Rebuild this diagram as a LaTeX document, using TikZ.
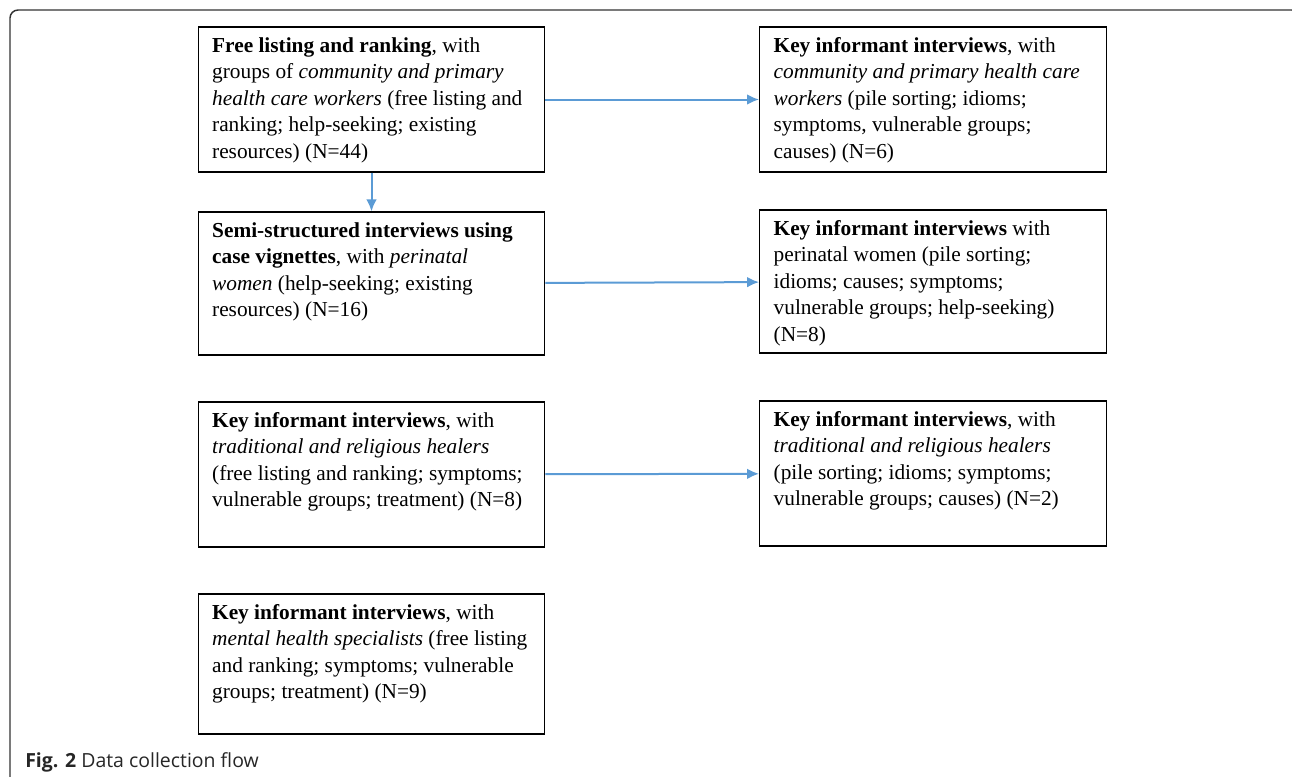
\documentclass[tikz,border=0pt]{standalone}
\usepackage{fontspec}
\setmainfont{Liberation Serif}
\newfontfamily\capfont{Open Sans}
\usetikzlibrary{arrows.meta,positioning}
\definecolor{flowblue}{HTML}{5B9BD5}
\definecolor{framegray}{HTML}{333333}
\newcommand{\stagetext}[2][108.75pt]{%
  \begin{minipage}[t][#1][t]{239pt}\raggedright
  \fontsize{16pt}{19.9pt}\selectfont\rule{0pt}{18.75pt}#2\end{minipage}}
\tikzset{
    stage/.style={
    rectangle,draw=black,line width=0.9pt,inner xsep=10.5pt,inner ysep=0pt
    },
    flow/.style={
    draw=flowblue,line width=1.5pt,-{Latex[length=9pt,width=8pt]}
    },
    frame/.style={
    draw=framegray,line width=1.1pt,rounded corners=6pt
    },
}
\begin{document}
\begin{tikzpicture}[x=0.75pt,y=-0.75pt]
   \path[use as bounding box] (0,0) rectangle (1292,776);
   \clip (0,0) rectangle (1292,776);
   \draw[frame] (10,800) -- (10,10) -- (1300,10) -- (1300,800);

   \node[stage] (FL) at (371.5,99.5) {\stagetext{\textbf{Free listing and ranking}, with\\
     groups of \textit{community and primary}\\
     \textit{health care workers} (free listing and\\
     ranking; help-seeking; existing\\
     resources) (N=44)}};
   \node[stage] (KIW) at (933,99.5) {\stagetext{\textbf{Key informant interviews}, with\\
     \textit{community and primary health care}\\
     \textit{workers} (pile sorting; idioms;\\
     symptoms, vulnerable groups;\\
     causes) (N=6)}};
   \node[stage] (SSI) at (371.5,283.5) {\stagetext[107.25pt]{\textbf{Semi-structured interviews using}\\
     \textbf{case vignettes}, with \textit{perinatal}\\
     \textit{women} (help-seeking; existing\\
     resources) (N=16)}};
   \node[stage] (KIP) at (933,281.5) {\stagetext[107.25pt]{\textbf{Key informant interviews} with\\
     perinatal women (pile sorting;\\
     idioms; causes; symptoms;\\
     vulnerable groups; help-seeking)\\
     (N=8)}};
   \node[stage] (TH1) at (371.5,474.5) {\stagetext{\textbf{Key informant interviews}, with\\
     \textit{traditional and religious healers}\\
     (free listing and ranking; symptoms;\\
     vulnerable groups; treatment) (N=8)}};
   \node[stage] (TH2) at (933,473.5) {\stagetext{\textbf{Key informant interviews}, with\\
     \textit{traditional and religious healers}\\
     (pile sorting; idioms; symptoms;\\
     vulnerable groups; causes) (N=2)}};
   \node[stage] (MHS) at (371.5,664) {\stagetext[105pt]{\textbf{Key informant interviews}, with\\
     \textit{mental health specialists} (free listing\\
     and ranking; symptoms; vulnerable\\
     groups; treatment) (N=9)}};

   \node[anchor=base west,inner sep=0pt,text=black!85,font=\capfont\fontsize{14.6pt}{17pt}\selectfont]
     (cap) at (25,767) {\textbf{Fig. 2} Data collection flow};

  \draw[flow] (FL) -- (KIW);
  \draw[flow] (FL) -- (SSI);
  \draw[flow] (SSI) -- (KIP);
  \draw[flow] (TH1) -- (TH2);
\end{tikzpicture}
\end{document}
